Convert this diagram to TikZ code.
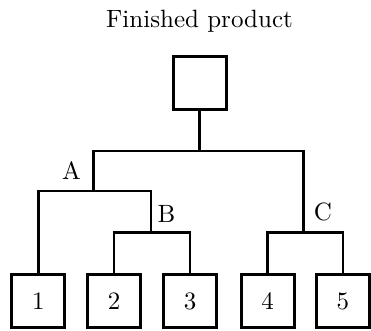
\documentclass[tikz,border=0pt]{standalone}
\begin{document}
\begin{tikzpicture}[x=0.4pt,y=-0.4pt,
  box/.style={draw,line width=1.2pt,minimum size=21.2pt,inner sep=0pt,anchor=center},
  conn/.style={line width=1pt},
  lbl/.style={anchor=base,inner sep=0pt}]
\useasboundingbox (0,0) rectangle (371,331);
\node[lbl] (title) at (199.5,28) {Finished product};
\node[box] (top) at (199.5,83.5) {};
\node[box] (b1) at (38.4,301.3) {1};
\node[box] (b2) at (114,301.3) {2};
\node[box] (b3) at (190.2,301.3) {3};
\node[box] (b4) at (267.6,301.3) {4};
\node[box] (b5) at (342.8,301.3) {5};
\coordinate (r) at (199.5,151);
\coordinate (jA) at (93.3,191);
\coordinate (jB) at (151,232.7);
\coordinate (jC) at (303.7,232.7);
\draw[conn] (top.south) -- (r);
\draw[conn] (jA) |- (r) -| (jC);
\draw[conn] (b1.north) |- (jA) -| (jB);
\draw[conn] (b2.north) |- (jB) -| (b3.north);
\draw[conn] (b4.north) |- (jC) -| (b5.north);
\node[lbl] (lA) at (71.5,180) {A};
\node[lbl] (lB) at (166.5,222) {B};
\node[lbl] (lC) at (323,220) {C};
\end{tikzpicture}
\end{document}
